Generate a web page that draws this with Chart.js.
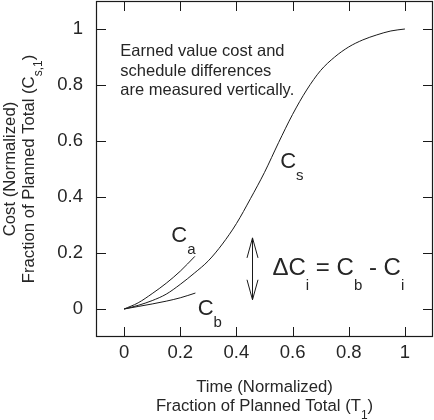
<!DOCTYPE html>
<html>
<head>
<meta charset="utf-8">
<script src="https://cdn.jsdelivr.net/npm/chart.js@4/dist/chart.umd.min.js"></script>
<style>
  html, body { margin: 0; padding: 0; background: #ffffff; }
  canvas { display: block; }
</style>
</head>
<body>
<canvas id="c" width="434" height="420"></canvas>
<script>
// ---- data ----
const csTime   = [0, 0.05, 0.1, 0.15, 0.2, 0.25, 0.3, 0.35, 0.4, 0.45, 0.5, 0.55, 0.6, 0.65, 0.7, 0.75, 0.8, 0.85, 0.9, 0.95, 1.0];
const csValues = [0, 0.013, 0.03, 0.053, 0.088, 0.128, 0.172, 0.232, 0.305, 0.394, 0.488, 0.594, 0.695, 0.782, 0.852, 0.9, 0.936, 0.961, 0.979, 0.993, 1.0];
const caTime   = [0, 0.05, 0.1, 0.15, 0.2, 0.252];
const caValues = [0, 0.022, 0.055, 0.092, 0.135, 0.188];
const cbTime   = [0, 0.05, 0.1, 0.15, 0.2, 0.254];
const cbValues = [0, 0.009, 0.018, 0.028, 0.04, 0.057];
const xTickValues = [0, 0.2, 0.4, 0.6, 0.8, 1];
const yTickValues = [0, 0.2, 0.4, 0.6, 0.8, 1];
const xTickLabels = ['0', '0.2', '0.4', '0.6', '0.8', '1'];
const yTickLabels = ['0', '0.2', '0.4', '0.6', '0.8', '1'];
const noteLines = ['Earned value cost and', 'schedule differences', 'are measured vertically.'];
const arrowTime = 0.457;
const arrowFrom = 0.033;
const arrowTo = 0.254;

const FONT = '"Liberation Sans", Arial, Helvetica, sans-serif';
const TEXT = '#262626';
const LINE = '#1a1a1a';

function pts(xs, ys) { return xs.map((x, i) => ({ x: x, y: ys[i] })); }

function lineDs(data) {
  return {
    data: data, showLine: true, borderColor: LINE, borderWidth: 1,
    pointRadius: 0, fill: false, tension: 0.4, cubicInterpolationMode: 'monotone'
  };
}

function drawPieces(ctx, x, y, pieces) {
  let cx = x;
  pieces.forEach(p => {
    ctx.font = p.size + 'px ' + FONT;
    ctx.fillText(p.t, cx, y + (p.dy || 0));
    cx += ctx.measureText(p.t).width;
  });
  return cx - x;
}
function widthPieces(ctx, pieces) {
  let w = 0;
  pieces.forEach(p => { ctx.font = p.size + 'px ' + FONT; w += ctx.measureText(p.t).width; });
  return w;
}

const decor = {
  id: 'decor',
  afterDatasetsDraw(chart) {
    const ctx = chart.ctx;
    const xs = chart.scales.x, ys = chart.scales.y;
    const a = chart.chartArea;
    ctx.save();
    ctx.strokeStyle = LINE;
    ctx.lineWidth = 1.2;
    ctx.strokeRect(a.left + 0.5, a.top + 0.5, a.right - a.left - 1, a.bottom - a.top - 1);
    ctx.lineWidth = 1;
    ctx.beginPath();
    xTickValues.forEach(v => {
      const px = Math.round(xs.getPixelForValue(v)) + 0.5;
      ctx.moveTo(px, a.bottom); ctx.lineTo(px, a.bottom - 10);
      ctx.moveTo(px, a.top); ctx.lineTo(px, a.top + 10);
    });
    yTickValues.forEach(v => {
      const py = Math.round(ys.getPixelForValue(v)) + 0.5;
      ctx.moveTo(a.left, py); ctx.lineTo(a.left + 10, py);
      ctx.moveTo(a.right, py); ctx.lineTo(a.right - 10, py);
    });
    ctx.stroke();

    const ax = Math.round(xs.getPixelForValue(arrowTime)) + 0.5;
    const ay1 = ys.getPixelForValue(arrowTo);
    const ay2 = ys.getPixelForValue(arrowFrom);
    ctx.beginPath();
    ctx.moveTo(ax, ay1); ctx.lineTo(ax, ay2);
    ctx.moveTo(ax - 5.5, ay1 + 20); ctx.lineTo(ax, ay1); ctx.lineTo(ax + 5.5, ay1 + 20);
    ctx.moveTo(ax - 5.5, ay2 - 20); ctx.lineTo(ax, ay2); ctx.lineTo(ax + 5.5, ay2 - 20);
    ctx.stroke();

    ctx.fillStyle = TEXT;
    ctx.textAlign = 'left';
    ctx.textBaseline = 'alphabetic';

    ctx.font = '16.5px ' + FONT;
    const nx = xs.getPixelForValue(-0.0135);
    const ny = ys.getPixelForValue(0.902);
    noteLines.forEach((l, i) => ctx.fillText(l, nx, ny + i * 19.2));

    const lab = (vx, vy, sub) => drawPieces(ctx, xs.getPixelForValue(vx), ys.getPixelForValue(vy),
      [{ t: 'C', size: 22 }, { t: sub, size: 15, dy: 12.3 }]);
    lab(0.168, 0.241, 'a');
    lab(0.556, 0.504, 's');
    lab(0.262, -0.020, 'b');

    drawPieces(ctx, xs.getPixelForValue(0.5285), ys.getPixelForValue(0.1225), [
      { t: '\u0394C', size: 24 }, { t: 'i', size: 15, dy: 15 },
      { t: ' = C', size: 24 }, { t: 'b', size: 15, dy: 15 },
      { t: ' - C', size: 24 }, { t: 'i', size: 15, dy: 15 }
    ]);

    const cx = (a.left + a.right) / 2;
    ctx.font = '16.7px ' + FONT;
    ctx.textAlign = 'center';
    ctx.fillText('Time (Normalized)', cx, 392);
    ctx.textAlign = 'left';
    const xt2 = [{ t: 'Fraction of Planned Total (T', size: 16.7 }, { t: '1', size: 12, dy: 8.5 }, { t: ')', size: 16.7 }];
    drawPieces(ctx, cx - widthPieces(ctx, xt2) / 2, 410.5, xt2);

    const cy = (a.top + a.bottom) / 2;
    ctx.save();
    ctx.translate(14.5, cy);
    ctx.rotate(-Math.PI / 2);
    ctx.font = '16.7px ' + FONT;
    ctx.textAlign = 'center';
    ctx.fillText('Cost (Normalized)', 0, 0);
    ctx.restore();
    ctx.save();
    ctx.translate(33.5, cy);
    ctx.rotate(-Math.PI / 2);
    ctx.textAlign = 'left';
    const yt2 = [{ t: 'Fraction of Planned Total (C', size: 16.7 }, { t: 's,1', size: 12, dy: 8.5 }, { t: ')', size: 16.7 }];
    drawPieces(ctx, -widthPieces(ctx, yt2) / 2, 0, yt2);
    ctx.restore();

    ctx.restore();
  }
};

new Chart(document.getElementById('c'), {
  type: 'scatter',
  data: {
    datasets: [
      lineDs(pts(csTime, csValues)),
      lineDs(pts(caTime, caValues)),
      lineDs(pts(cbTime, cbValues))
    ]
  },
  options: {
    responsive: false,
    animation: false,
    devicePixelRatio: 1,
    layout: { padding: { top: 1, right: 1, left: 0, bottom: 0 } },
    plugins: { legend: { display: false }, tooltip: { enabled: false } },
    scales: {
      x: {
        type: 'linear', min: -0.1, max: 1.1,
        grid: { display: false, drawTicks: false },
        border: { display: false },
        afterBuildTicks: s => { s.ticks = xTickValues.map(v => ({ value: v })); },
        afterFit: s => { s.height = 83; s.paddingLeft = 0; s.paddingRight = 0; },
        ticks: {
          padding: 5, color: TEXT, font: { family: FONT, size: 18.5 }, maxRotation: 0, autoSkip: false,
          callback: (v, i) => xTickLabels[i]
        }
      },
      y: {
        type: 'linear', min: -0.1, max: 1.1,
        grid: { display: false, drawTicks: false },
        border: { display: false },
        afterBuildTicks: s => { s.ticks = yTickValues.map(v => ({ value: v })); },
        afterFit: s => { s.width = 96; s.paddingTop = 0; s.paddingBottom = 0; },
        ticks: {
          padding: 13, color: TEXT, font: { family: FONT, size: 18.5 }, autoSkip: false,
          callback: (v, i) => yTickLabels[i]
        }
      }
    }
  },
  plugins: [decor]
});
</script>
</body>
</html>
